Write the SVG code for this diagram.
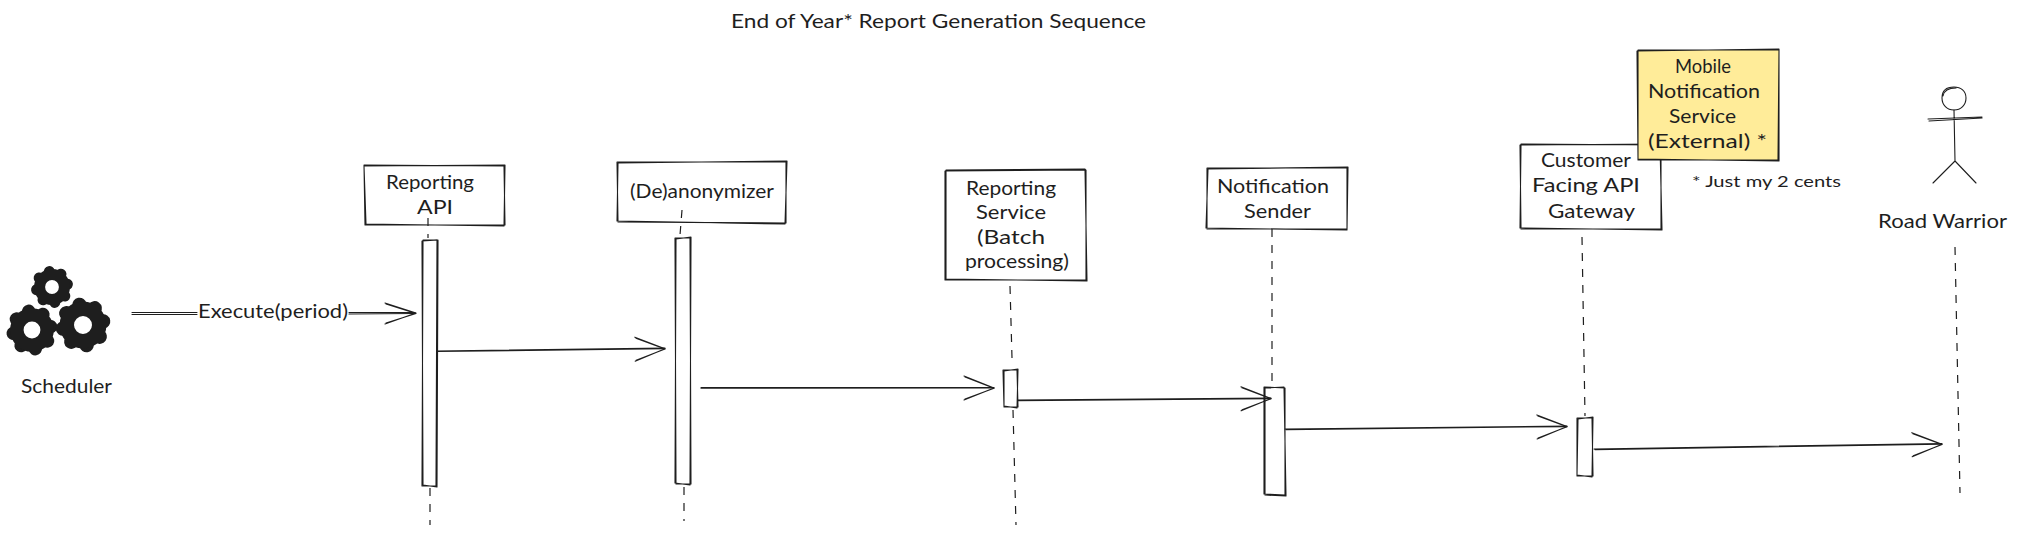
<svg xmlns="http://www.w3.org/2000/svg" width="2017" height="536" viewBox="0 0 2017 536">
<style>
.s{fill:none;stroke:#1e1e1e;stroke-width:1.1;stroke-linecap:round;stroke-linejoin:round}
.b{fill:#fff;stroke:none}
.d{fill:none;stroke:#1e1e1e;stroke-width:1.2;stroke-dasharray:8 8}
text{font-family:"Lato","Liberation Sans",sans-serif;font-size:20px;font-weight:400;fill:#1e1e1e}
.n{font-size:16px}
</style>
<defs>
<g id="gear">
<circle r="17" fill="none" stroke="#1e1e1e" stroke-width="12" stroke-dasharray="0 1" pathLength="8" stroke-linecap="round" transform="rotate(-10)"/>
<circle r="13.5" fill="none" stroke="#1e1e1e" stroke-width="12"/>
</g>
<marker id="ah" markerUnits="userSpaceOnUse" markerWidth="40" markerHeight="32" refX="31" refY="12" orient="auto" overflow="visible">
<path class="s" d="M1 0L31 12L1 24M2 1L31 12.2L2 23"/>
</marker>
</defs>
<rect width="2017" height="536" fill="#fff"/>
<text id="title" x="731" y="28" textLength="415" lengthAdjust="spacingAndGlyphs">End of Year* Report Generation Sequence</text>
<g id="connectors">
<path class="d" d="M428 218L428 238M430 488L430 525"/>
<path class="d" d="M682 210L680 235M684 487L684 521"/>
<path class="d" d="M1010 286L1012 358M1013 410L1016 525"/>
<path class="d" d="M1272 229L1272 386"/>
<path class="d" d="M1582 237L1585 416"/>
<path class="d" d="M1955 247L1960 493"/>
<path class="s" d="M132 312.5L197 312.5M132 314.5L197 314.5M349 312.5L415 312.5M349 314L415 313.5"/>
<path class="s" d="M385 303L416 313L385 324M386 304L416 313.5L386 323"/>
<text x="198" y="318" textLength="150" lengthAdjust="spacingAndGlyphs">Execute(period)</text>
<path class="s" d="M436 351L665 348M437 351.5L665 348.8" marker-end="url(#ah)"/>
<path class="s" d="M701 387.5L994 387.5M701 388.2L994 388" marker-end="url(#ah)"/>
<path class="s" d="M1016 400L1271 398M1017 400.6L1271 398.6" marker-end="url(#ah)"/>
<path class="s" d="M1285 429L1567 426M1286 429.6L1567 426.6" marker-end="url(#ah)"/>
<path class="s" d="M1594 449L1942 443.5M1595 449.6L1942 444.2" marker-end="url(#ah)"/>
</g>
<g id="scheduler">
<use href="#gear" transform="translate(52 287) scale(.92)"/>
<use href="#gear" transform="translate(32 330) scale(1.12)"/>
<use href="#gear" transform="translate(83 325) scale(1.2)"/>
<text x="21" y="393" textLength="91" lengthAdjust="spacingAndGlyphs">Scheduler</text>
</g>
<g id="reporting-api">
<path class="s" d="M364 165L504 166L505 225L365 225ZM364 166L505 165L504 226L366 224Z"/>
<text x="386" y="189" textLength="88" lengthAdjust="spacingAndGlyphs">Reporting</text>
<text x="417" y="214" textLength="36" lengthAdjust="spacingAndGlyphs">API</text>
<path class="b" d="M422 240H437V486H422Z"/>
<path class="s" d="M423 240L437 240L436 486L422 486ZM422 241L438 240L437 487L423 485Z"/>
</g>
<g id="deanonymizer">
<path class="s" d="M617 162L786 162L786 223L618 222ZM618 163L787 161L785 224L617 221Z"/>
<text x="630" y="198" textLength="144" lengthAdjust="spacingAndGlyphs">(De)anonymizer</text>
<path class="b" d="M675 238H691V484H675Z"/>
<path class="s" d="M675 238L690 238L691 484L676 484ZM676 239L691 237L690 485L675 483Z"/>
</g>
<g id="reporting-service">
<path class="s" d="M945 171L1086 170L1086 280L945 280ZM946 170L1085 169L1087 281L946 279Z"/>
<text x="966" y="195" textLength="90" lengthAdjust="spacingAndGlyphs">Reporting</text>
<text x="976" y="219" textLength="70" lengthAdjust="spacingAndGlyphs">Service</text>
<text x="977" y="244" textLength="68" lengthAdjust="spacingAndGlyphs">(Batch</text>
<text x="965" y="268" textLength="104" lengthAdjust="spacingAndGlyphs">processing)</text>
<path class="b" d="M1003 370H1018V407H1003Z"/>
<path class="s" d="M1003 370L1017 370L1018 407L1004 407ZM1004 371L1018 369L1017 408L1004 406Z"/>
</g>
<g id="notification-sender">
<path class="s" d="M1207 168L1347 168L1347 229L1207 229ZM1208 169L1348 167L1347 230L1206 228Z"/>
<text x="1217" y="193" textLength="112" lengthAdjust="spacingAndGlyphs">Notification</text>
<text x="1244" y="218" textLength="67" lengthAdjust="spacingAndGlyphs">Sender</text>
<path class="s" d="M1264 387L1285 388L1285 495L1264 494ZM1265 388L1284 387L1286 496L1265 495Z"/>
</g>
<g id="gateway">
<path class="s" d="M1520 145L1661 144L1661 229L1521 229ZM1521 144L1660 145L1662 230L1520 228Z"/>
<text x="1541" y="167" textLength="90" lengthAdjust="spacingAndGlyphs">Customer</text>
<text x="1532" y="192" textLength="108" lengthAdjust="spacingAndGlyphs">Facing API</text>
<text x="1548" y="218" textLength="87" lengthAdjust="spacingAndGlyphs">Gateway</text>
<path class="b" d="M1577 418H1593V476H1577Z"/>
<path class="s" d="M1577 418L1592 418L1593 476L1577 476ZM1578 419L1593 417L1592 477L1577 475Z"/>
</g>
<g id="mobile-notification">
<path d="M1638 50H1779V160H1638Z" fill="#ffec99"/>
<path class="s" d="M1638 50L1779 50L1778 160L1638 160ZM1637 51L1779 49L1779 161L1638 159Z"/>
<text x="1675" y="73" textLength="56" lengthAdjust="spacingAndGlyphs">Mobile</text>
<text x="1648" y="98" textLength="112" lengthAdjust="spacingAndGlyphs">Notification</text>
<text x="1669" y="123" textLength="67" lengthAdjust="spacingAndGlyphs">Service</text>
<text x="1648" y="148" textLength="119" lengthAdjust="spacingAndGlyphs">(External) *</text>
</g>
<g id="note">
<text class="n" x="1692" y="187" textLength="149" lengthAdjust="spacingAndGlyphs">* Just my 2 cents</text>
</g>
<g id="road-warrior">
<path class="s" d="M1942 98C1942 90 1947 87 1954 87C1961 87 1966 91 1966 98C1966 105 1961 110 1954 110C1947 110 1942 105 1942 98ZM1943 96C1944 90 1949 88 1956 88"/>
<path class="s" d="M1954 110L1955 161M1928 119L1982 117M1929 121L1982 118M1955 161L1933 183M1955 161L1976 183"/>
<text x="1878" y="228" textLength="129" lengthAdjust="spacingAndGlyphs">Road Warrior</text>
</g>
</svg>
